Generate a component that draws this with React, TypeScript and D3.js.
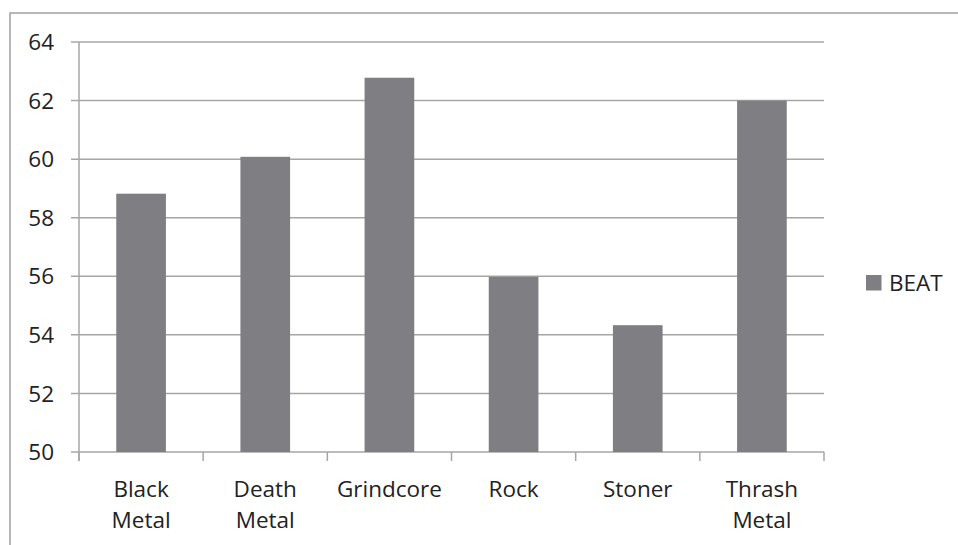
import React from "react";
import * as d3 from "d3";

const categories: string[][] = [["Black", "Metal"], ["Death", "Metal"], ["Grindcore"], ["Rock"], ["Stoner"], ["Thrash", "Metal"]];
const beatValues: number[] = [58.82, 60.08, 62.78, 55.98, 54.33, 62.0];
const yTicks: number[] = [50, 52, 54, 56, 58, 60, 62, 64];
const seriesName = "BEAT";

const W = 958, H = 545;
const left = 79, right = 824, top = 42, bottom = 452;
const font = "'Open Sans', sans-serif";
const fs = 22.5;
const textColor = "#222222";
const gridColor = "#a6a6a6";
const barColor = "#7f7f83";

export default function App() {
  const x = d3.scaleBand<number>().domain(d3.range(categories.length)).range([left, right]).paddingInner(0).paddingOuter(0);
  const y = d3.scaleLinear().domain([50, 64]).range([bottom, top]);
  const step = x.step();
  const bw = step * 0.4;
  return (
    <svg width={W} height={H} style={{ position: "absolute", left: 0, top: 0, background: "#fff" }}>
      <rect x={10} y={13} width={W} height={H} fill="none" stroke="#a0a0a0" strokeWidth={1.5} />
      {yTicks.map((t) => (
        <g key={t}>
          <line x1={left - 8} x2={right} y1={y(t)} y2={y(t)} stroke={gridColor} strokeWidth={1.5} />
          <text x={54} y={y(t)} dy="0.36em" textAnchor="end" fontFamily={font} fontSize={fs} fill={textColor}>{t}</text>
        </g>
      ))}
      <line x1={left} x2={left} y1={top} y2={bottom + 9} stroke={gridColor} strokeWidth={1.5} />
      {d3.range(categories.length + 1).map((i) => (
        <line key={i} x1={left + i * step} x2={left + i * step} y1={bottom} y2={bottom + 9} stroke={gridColor} strokeWidth={1.5} />
      ))}
      {beatValues.map((v, i) => (
        <rect key={i} x={(x(i) as number) + step / 2 - bw / 2} y={y(v)} width={bw} height={bottom - y(v)} fill={barColor} />
      ))}
      {categories.map((lines, i) => (
        <text key={i} x={(x(i) as number) + step / 2} y={497} textAnchor="middle" fontFamily={font} fontSize={fs} fill={textColor}>
          {lines.map((l, j) => (
            <tspan key={j} x={(x(i) as number) + step / 2} dy={j === 0 ? 0 : 31}>{l}</tspan>
          ))}
        </text>
      ))}
      <rect x={866} y={275} width={15.5} height={15.5} fill={barColor} />
      <text x={889} y={283} dy="0.36em" fontFamily={font} fontSize={fs} fill={textColor}>{seriesName}</text>
    </svg>
  );
}
